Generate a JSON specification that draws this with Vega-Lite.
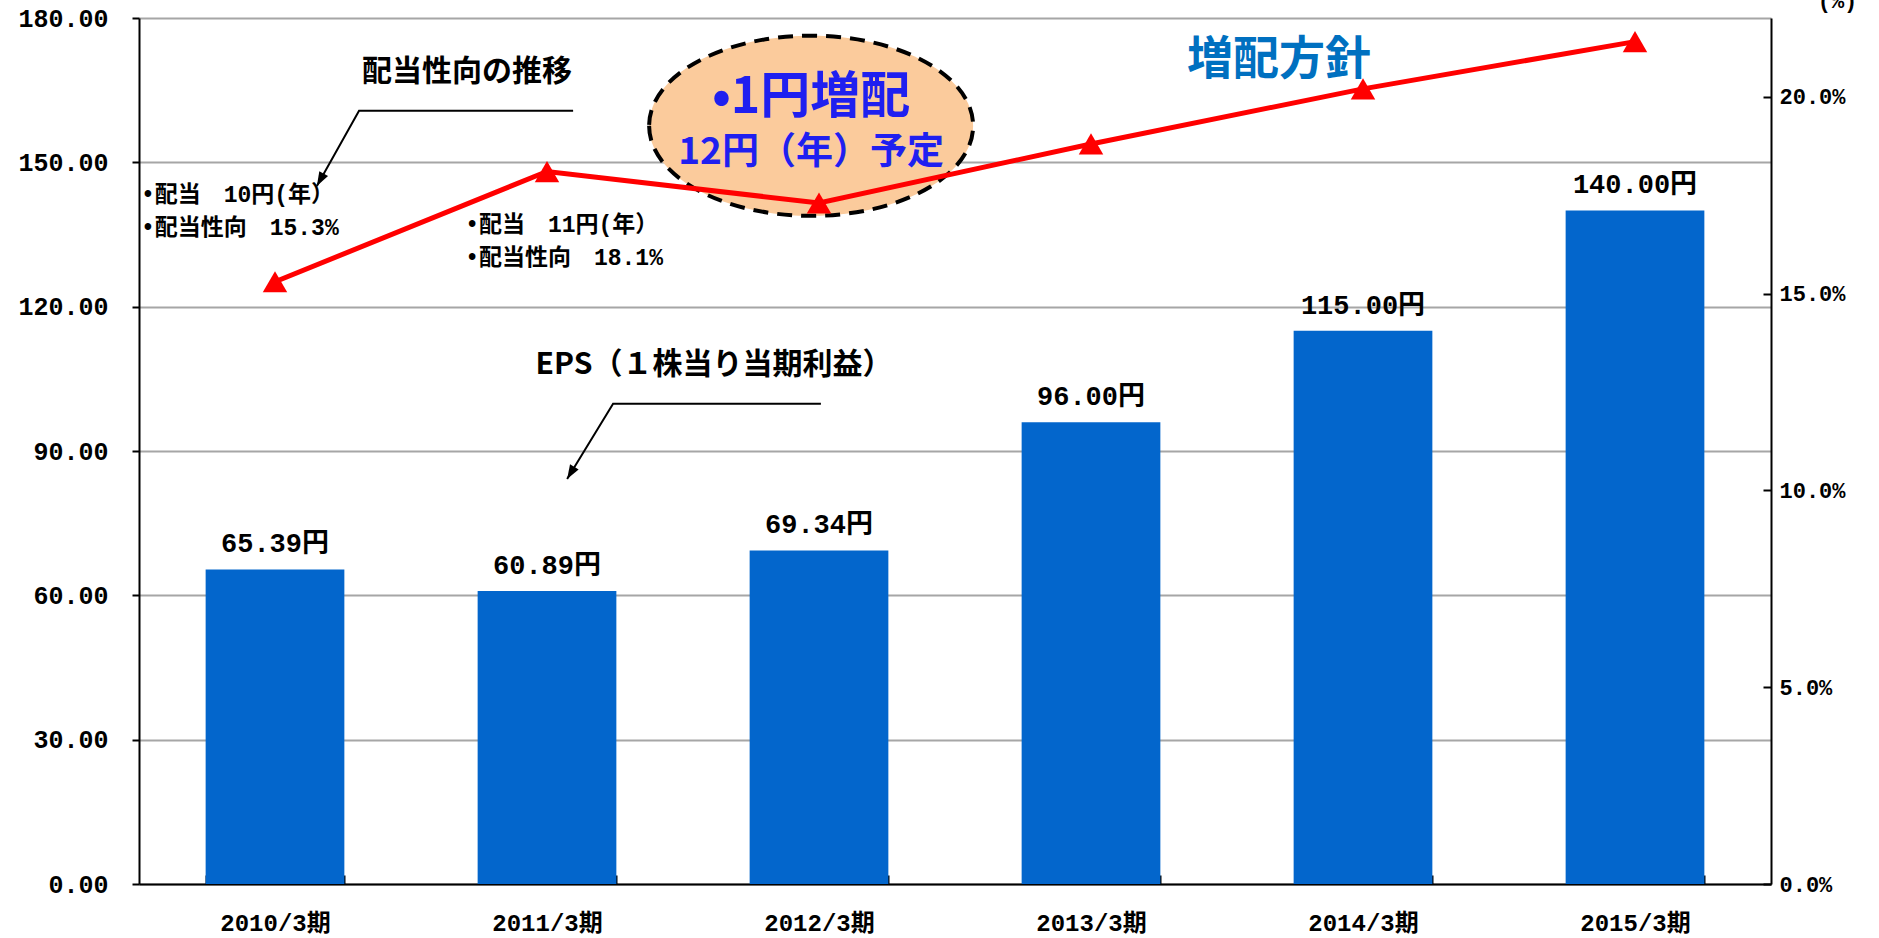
{
 "$schema": "https://vega.github.io/schema/vega-lite/v6.json",
 "width": 1632,
 "height": 866,
 "autosize": {"type": "none"},
 "padding": {"left": 139, "top": 18, "right": 108, "bottom": 54},
 "background": "white",
 "config": {"view": {"stroke": null}, "font": "Noto Sans CJK JP"},
 "datasets": {
  "main": [
   {"period": "2010/3期", "eps": 65.39, "label": "65.39円", "payout": 15.3},
   {"period": "2011/3期", "eps": 60.89, "label": "60.89円", "payout": 18.1},
   {"period": "2012/3期", "eps": 69.34, "label": "69.34円", "payout": 17.3},
   {"period": "2013/3期", "eps": 96.0, "label": "96.00円", "payout": 18.8},
   {"period": "2014/3期", "eps": 115.0, "label": "115.00円", "payout": 20.2},
   {"period": "2015/3期", "eps": 140.0, "label": "140.00円", "payout": 21.4}
  ],
  "ellipse": [{"ax": 2.471, "ay": 157.6}],
  "notes": [
   {"kind": "head", "text": "配当性向の推移", "ax": 1.206, "ay": 168.8},
   {"kind": "head", "text": "EPS（１株当り当期利益）", "ax": 2.114, "ay": 107.9},
   {"kind": "note", "text": "•配当　10円(年）", "ax": 0.007, "ay": 143.2},
   {"kind": "note", "text": "•配当性向　15.3%", "ax": 0.007, "ay": 136.4},
   {"kind": "note", "text": "•配当　11円(年）", "ax": 1.199, "ay": 137.0},
   {"kind": "note", "text": "•配当性向　18.1%", "ax": 1.199, "ay": 130.1},
   {"kind": "big", "text": "•1円増配", "ax": 2.471, "ay": 163.4},
   {"kind": "mid", "text": "12円（年）予定", "ax": 2.471, "ay": 152.0},
   {"kind": "policy", "text": "増配方針", "ax": 4.191, "ay": 171.3}
  ],
  "leaders": [
   {"leader": "a", "seq": 1, "ax": 1.596, "ay": 160.7},
   {"leader": "a", "seq": 2, "ax": 0.809, "ay": 160.7},
   {"leader": "a", "seq": 3, "ax": 0.654, "ay": 145.1},
   {"leader": "b", "seq": 1, "ax": 2.507, "ay": 99.8},
   {"leader": "b", "seq": 2, "ax": 1.743, "ay": 99.8},
   {"leader": "b", "seq": 3, "ax": 1.574, "ay": 84.2}
  ]
 },
 "layer": [
  {
   "data": {"name": "main"},
   "encoding": {
    "x": {
     "field": "period", "type": "nominal",
     "scale": {"paddingInner": 0.49, "paddingOuter": 0.245},
     "axis": {
      "title": null, "labelAngle": 0, "labelFont": "Liberation Mono, Noto Sans CJK JP",
      "labelFontSize": 24, "labelFontWeight": "bold",
      "labelColor": "black", "tickBand": "extent", "tickSize": -9, "tickWidth": 2,
      "tickColor": "black", "domainColor": "black", "domainWidth": 2, "labelPadding": 36
     }
    },
    "y": {
     "field": "eps", "type": "quantitative",
     "scale": {"domain": [0, 180], "nice": false},
     "axis": {
      "title": null, "values": [0, 30, 60, 90, 120, 150, 180], "format": ".2f",
      "labelFont": "Liberation Mono", "labelFontSize": 25, "labelFontWeight": "bold", "labelColor": "black",
      "domainColor": "black", "domainWidth": 2, "tickColor": "black", "tickSize": 7,
      "tickWidth": 2, "labelPadding": 24, "grid": true, "gridColor": "#A6A6A6", "gridWidth": 2
     }
    }
   },
   "layer": [
    {"mark": {"type": "bar", "color": "#0366CC"}},
    {
     "mark": {"type": "text", "baseline": "bottom", "dy": -11, "font": "Liberation Mono, Noto Sans CJK JP", "fontSize": 27, "fontWeight": "bold", "color": "black"},
     "encoding": {"text": {"field": "label"}}
    }
   ]
  },
  {
   "data": {"name": "ellipse"},
   "mark": {
    "type": "point", "shape": "M-1,0A1,0.556,0,1,0,1,0A1,0.556,0,1,0,-1,0Z",
    "size": 104976, "filled": true, "fill": "#FBCB9C", "stroke": "black",
    "strokeWidth": 4, "strokeDash": [15, 9], "opacity": 1, "fillOpacity": 1, "strokeOpacity": 1
   },
   "encoding": {
    "x": {"field": "ax", "type": "quantitative", "scale": {"domain": [0, 6], "nice": false, "zero": false}, "axis": null},
    "y": {"field": "ay", "type": "quantitative", "scale": {"domain": [0, 180], "nice": false}, "axis": null}
   }
  },
  {
   "data": {"name": "main"},
   "encoding": {
    "x": {
     "field": "period", "type": "nominal",
     "scale": {"paddingInner": 0.49, "paddingOuter": 0.245}, "axis": null
    },
    "y": {
     "field": "payout", "type": "quantitative",
     "scale": {"domain": [0, 22], "nice": false},
     "axis": {
      "orient": "right", "values": [0, 5, 10, 15, 20],
      "labelExpr": "format(datum.value, '.1f') + '%'",
      "labelFont": "Liberation Mono", "labelFontSize": 22, "labelFontWeight": "bold", "labelColor": "black",
      "domainColor": "black", "domainWidth": 2, "tickColor": "black", "tickSize": -8, "tickWidth": 2,
      "labelPadding": 16, "grid": false,
      "title": "(%)", "titleAngle": 0, "titleX": 66, "titleY": -11, "titleAlign": "center",
      "titleBaseline": "alphabetic", "titleFont": "Liberation Mono", "titleFontSize": 22, "titleFontWeight": "bold", "titleColor": "black"
     }
    }
   },
   "layer": [
    {"mark": {"type": "line", "color": "#FF0000", "strokeWidth": 5}},
    {"mark": {"type": "point", "shape": "triangle-up", "size": 600, "filled": true, "color": "#FF0000", "opacity": 1}}
   ]
  },
  {
   "encoding": {
    "x": {"field": "ax", "type": "quantitative", "scale": {"domain": [0, 6], "nice": false, "zero": false}, "axis": null},
    "y": {"field": "ay", "type": "quantitative", "scale": {"domain": [0, 180], "nice": false}, "axis": null}
   },
   "layer": [
    {
     "data": {"name": "leaders"},
     "mark": {"type": "line", "color": "black", "strokeWidth": 2},
     "encoding": {"detail": {"field": "leader"}, "order": {"field": "seq", "type": "quantitative"}}
    },
    {
     "data": {"name": "leaders"},
     "transform": [{"filter": "datum.seq == 3 && datum.leader == 'a'"}],
     "mark": {"type": "point", "shape": "M0,0L1,2.8L-1,2.8Z", "size": 100, "filled": true, "color": "black", "opacity": 1, "angle": 209}
    },
    {
     "data": {"name": "leaders"},
     "transform": [{"filter": "datum.seq == 3 && datum.leader == 'b'"}],
     "mark": {"type": "point", "shape": "M0,0L1,2.8L-1,2.8Z", "size": 100, "filled": true, "color": "black", "opacity": 1, "angle": 211}
    },
    {
     "data": {"name": "notes"},
     "transform": [{"filter": "datum.kind == 'head'"}],
     "mark": {"type": "text", "align": "center", "baseline": "middle", "fontSize": 30, "fontWeight": "bold", "color": "black"},
     "encoding": {"text": {"field": "text"}}
    },
    {
     "data": {"name": "notes"},
     "transform": [{"filter": "datum.kind == 'note'"}],
     "mark": {"type": "text", "align": "left", "baseline": "middle", "font": "Liberation Mono, Noto Sans CJK JP", "fontSize": 23, "fontWeight": "bold", "color": "black"},
     "encoding": {"text": {"field": "text"}}
    },
    {
     "data": {"name": "notes"},
     "transform": [{"filter": "datum.kind == 'big'"}],
     "mark": {"type": "text", "align": "center", "baseline": "middle", "fontSize": 50, "fontWeight": "bold", "color": "#1F1FF0"},
     "encoding": {"text": {"field": "text"}}
    },
    {
     "data": {"name": "notes"},
     "transform": [{"filter": "datum.kind == 'mid'"}],
     "mark": {"type": "text", "align": "center", "baseline": "middle", "fontSize": 37, "fontWeight": "bold", "color": "#1F1FF0"},
     "encoding": {"text": {"field": "text"}}
    },
    {
     "data": {"name": "notes"},
     "transform": [{"filter": "datum.kind == 'policy'"}],
     "mark": {"type": "text", "align": "center", "baseline": "middle", "fontSize": 46, "fontWeight": "bold", "color": "#0070C0"},
     "encoding": {"text": {"field": "text"}}
    }
   ]
  }
 ],
 "resolve": {"scale": {"x": "independent", "y": "independent"}}
}
